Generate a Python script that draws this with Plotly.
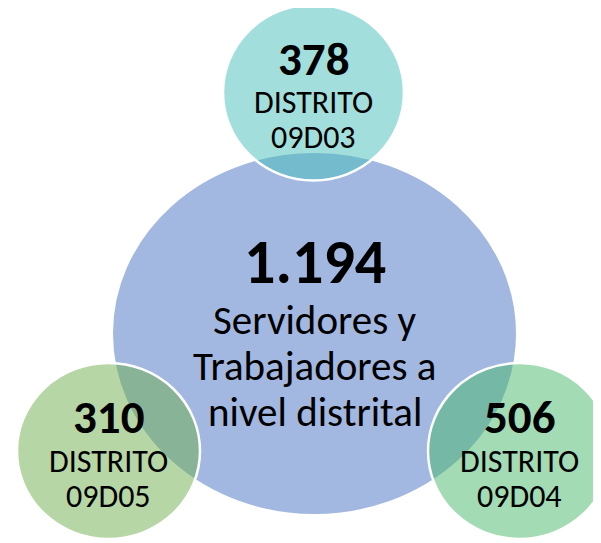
import plotly.graph_objects as go

# data
total = 1194
total_label = ["Servidores y", "Trabajadores a", "nivel distrital"]
districts = ["09D03", "09D04", "09D05"]
district_values = [378, 506, 310]

# layout of the bubbles (pixel space of a 601x543 canvas)
big = dict(cx=314.5, cy=333.5, rx=202.5, ry=181.5, color="#A2B8E0")
small = {
    "09D03": dict(cx=313.5, cy=92.5, rx=90.5, ry=88, color="rgba(69,191,185,0.5)"),
    "09D04": dict(cx=519.5, cy=451, rx=91.5, ry=88, color="rgba(69,183,105,0.5)"),
    "09D05": dict(cx=108.5, cy=451, rx=91.5, ry=88, color="rgba(109,173,77,0.5)"),
}

FONT = "Calibri, Carlito, Lato, sans-serif"
PAGE_OFFSET = 8  # default body margin of the html page


def fmt_es(n):
    return f"{n:,}".replace(",", ".")


fig = go.Figure()

shapes = [dict(type="circle", xref="x", yref="y",
               x0=big["cx"] - big["rx"], x1=big["cx"] + big["rx"],
               y0=big["cy"] - big["ry"], y1=big["cy"] + big["ry"],
               fillcolor=big["color"], line=dict(color="white", width=2),
               layer="below")]
for d in districts:
    s = small[d]
    shapes.append(dict(type="circle", xref="x", yref="y",
                       x0=s["cx"] - s["rx"], x1=s["cx"] + s["rx"],
                       y0=s["cy"] - s["ry"], y1=s["cy"] + s["ry"],
                       fillcolor=s["color"], line=dict(color="white", width=2.5),
                       layer="below"))

annotations = [dict(x=big["cx"], y=262, text=f"<b>{fmt_es(total)}</b>",
                    font=dict(size=62, color="black", family=FONT))]
for i, line in enumerate(total_label):
    annotations.append(dict(x=big["cx"], y=320 + 46 * i, text=line,
                            font=dict(size=41, color="black", family=FONT)))

for d, v in zip(districts, district_values):
    s = small[d]
    annotations.append(dict(x=s["cx"], y=s["cy"] - 34, text=f"<b>{v}</b>",
                            font=dict(size=47, color="black", family=FONT)))
    annotations.append(dict(x=s["cx"], y=s["cy"] + 10, text="DISTRITO",
                            font=dict(size=32, color="black", family=FONT)))
    annotations.append(dict(x=s["cx"], y=s["cy"] + 45, text=d,
                            font=dict(size=32, color="black", family=FONT)))

for a in annotations:
    a.update(xref="x", yref="y", showarrow=False, xanchor="center", yanchor="middle")

fig.update_layout(
    width=601, height=543,
    margin=dict(l=0, r=0, t=0, b=0),
    paper_bgcolor="white", plot_bgcolor="white",
    xaxis=dict(range=[PAGE_OFFSET, 601 + PAGE_OFFSET], visible=False, fixedrange=True),
    yaxis=dict(range=[543 + PAGE_OFFSET, PAGE_OFFSET], visible=False, fixedrange=True),
    shapes=shapes, annotations=annotations,
    showlegend=False,
)

fig.write_html("out.html")
